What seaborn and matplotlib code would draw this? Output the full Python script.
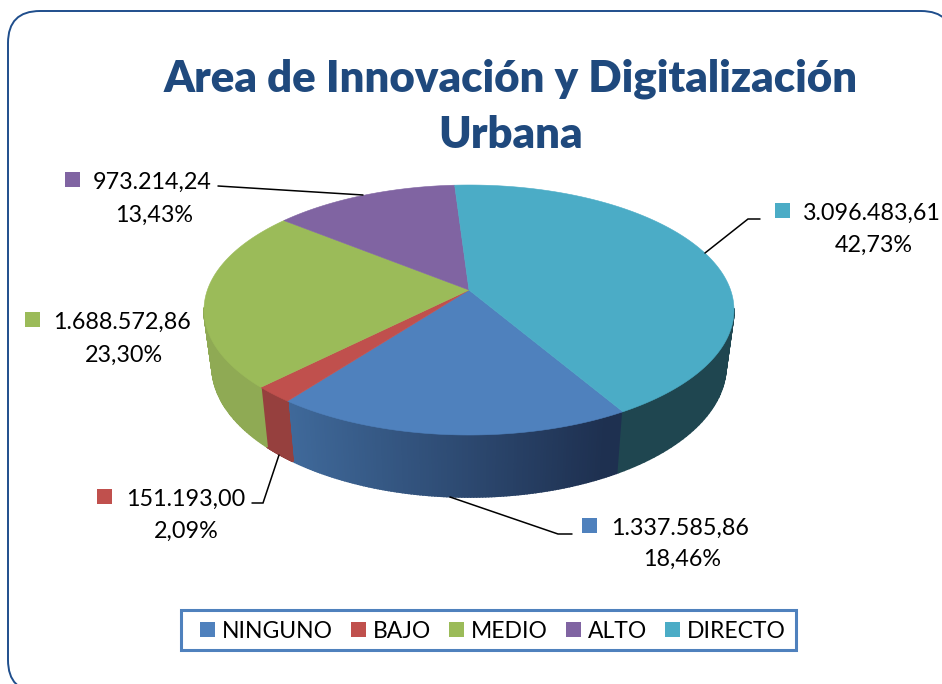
import numpy as np
import seaborn as sns
import matplotlib.pyplot as plt
from matplotlib.colors import to_rgb
from matplotlib.patches import FancyBboxPatch, Patch, Rectangle

categories = ['NINGUNO', 'BAJO', 'MEDIO', 'ALTO', 'DIRECTO']
values = [1337585.86, 151193.00, 1688572.86, 973214.24, 3096483.61]
colors = ['#4F81BD', '#C0504D', '#9BBB59', '#8064A2', '#4BACC6']

# side wall colours, left end and right end of the visible rim
side_left = ['#416C9E', '#96403E', '#8FAA54', '#8FAA54', '#1F4650']
side_right = ['#1E3050', '#8C3C3A', '#7F9A47', '#7F9A47', '#1F4650']

title = 'Area de Innovación y Digitalización\nUrbana'
title_color = '#1F497D'

# where each data label goes: marker left, text y first line, y second line, text centre
label_pos = {
    'NINGUNO': (582, 526, 558, 682),
    'BAJO': (97, 497, 530, 186),
    'MEDIO': (25, 320, 354, 124),
    'ALTO': (65, 180, 214, 154),
    'DIRECTO': (775, 211, 244, 874),
}
label_x = {'NINGUNO': 611, 'BAJO': 126, 'MEDIO': 53, 'ALTO': 93, 'DIRECTO': 803}

leaders = [
    ([705, 748, 760], [253, 219, 219]),
    ([363, 218], [195, 186]),
    ([450, 558, 572], [497, 534, 534]),
    ([279, 263, 252], [455, 503, 503]),
]

sns.set_theme(style='white')
plt.rcParams['font.family'] = ['Lato', 'DejaVu Sans']
palette = sns.color_palette(colors)

fig, ax = plt.subplots(figsize=(9.42, 6.84), dpi=100)
fig.subplots_adjust(0, 0, 1, 1)
ax.set_xlim(0, 942)
ax.set_ylim(684, 0)
ax.axis('off')

# outer frame runs off the picture on the right and bottom
ax.add_patch(FancyBboxPatch((8, 11), 945, 681, boxstyle='round,pad=0,rounding_size=32',
                            fc='white', ec='#1F4E8C', lw=1.4))

# top and bottom ellipses of the disc, c bends the rim for the perspective
c = 0.18
cx, cy, rx, ry = 469, 310, 265, 125
apex_y = 290
bx, by, brx, bry = 469, 366, 257, 131


def project(a):
    u, v = np.cos(a), np.sin(a)
    d = 1 + c * v
    return u * np.sqrt(1 - c ** 2) / d, (v + c) / d


shares = np.array(values) / sum(values)
edges = np.radians(-60.1) - np.concatenate([[0], np.cumsum(shares)]) * 2 * np.pi

# walls first
lo, hi = bx - brx, bx + brx
for i in range(len(values)):
    a = np.linspace(edges[i], edges[i + 1], 120)
    px, py = project(a)
    a = a[py <= 0.02]
    if len(a) < 2:
        continue
    px, py = project(a)
    tx, ty = cx + rx * px, cy - ry * py
    wx, wy = bx + brx * px, by - bry * py
    for j in range(len(a) - 1):
        f = np.clip((tx[j] - lo - 60) / (hi - lo - 180), 0, 1)
        col = np.array(to_rgb(side_left[i])) * (1 - f) + np.array(to_rgb(side_right[i])) * f
        ax.fill([tx[j], tx[j + 1], wx[j + 1], wx[j]], [ty[j], ty[j + 1], wy[j + 1], wy[j]],
                color=col, lw=1.2, zorder=2)

# top face
for i in range(len(values)):
    a = np.linspace(edges[i], edges[i + 1], 200)
    px, py = project(a)
    ax.fill(np.r_[cx, cx + rx * px], np.r_[apex_y, cy - ry * py],
            color=palette[i], lw=0.4, zorder=3)

for lx, ly in leaders:
    ax.plot(lx, ly, color='black', lw=1.1, zorder=4, solid_joinstyle='miter')

ax.text(511, 107, title, ha='center', va='center', fontsize=31.5, fontweight='heavy',
        color=title_color, linespacing=1.48)

total = sum(values)
for name, v, col in zip(categories, values, palette):
    mx, y1, y2, xc = label_pos[name]
    txt = f'{v:,.2f}'.replace(',', 'X').replace('.', ',').replace('X', '.')
    pct = f'{v / total * 100:.2f}%'.replace('.', ',')
    ax.add_patch(Rectangle((mx, y1 - 8), 15, 15, fc=col, ec='none', zorder=5))
    ax.text(label_x[name], y1 + 2, txt, ha='left', va='center', fontsize=16.8, color='black')
    ax.text(xc, y2 + 1, pct, ha='center', va='center', fontsize=16.8, color='black')

# legend box is wider on the left than the entries need
ax.add_patch(Rectangle((181, 610), 615, 40, fc='white', ec='#4F81BD', lw=2.2, zorder=5))
handles = [Patch(fc=col, ec='none', label=name) for name, col in zip(categories, palette)]
leg = ax.legend(handles=handles, ncol=5, loc='center', bbox_to_anchor=(493, 631),
                bbox_transform=ax.transData, fontsize=16.5, frameon=False, handlelength=0.66,
                handleheight=0.66, handletextpad=0.3, columnspacing=0.78, borderpad=0,
                labelcolor='black')
leg.set_zorder(6)

fig.savefig('out.png', dpi=100)
